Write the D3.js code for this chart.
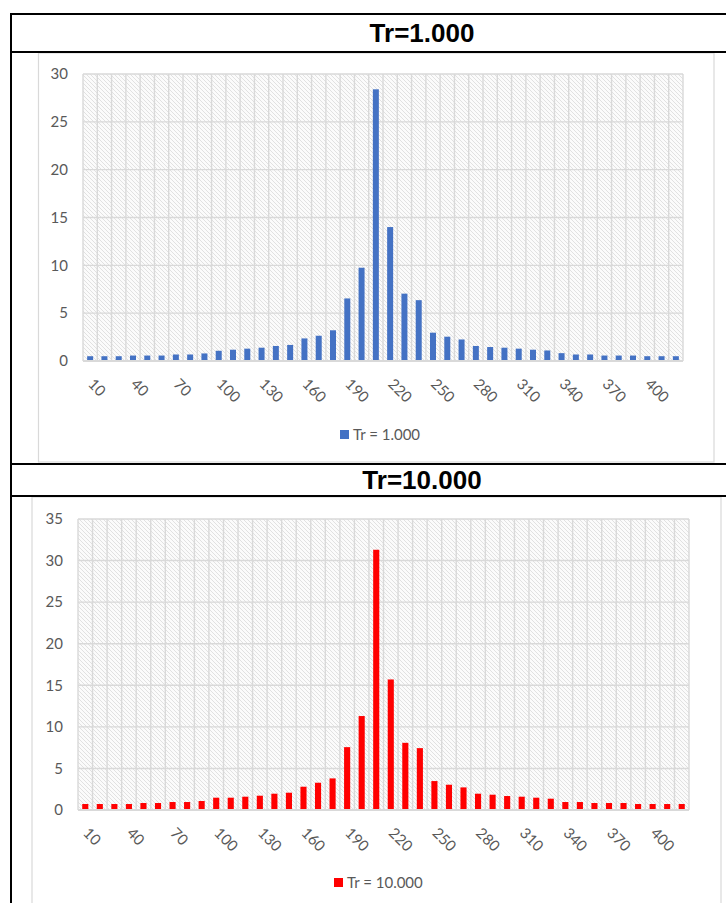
<!DOCTYPE html>
<html><head><meta charset="utf-8">
<script src="https://cdn.jsdelivr.net/npm/d3@7/dist/d3.min.js"></script>
<style>
body{margin:0;background:#fff;}
svg{display:block;}
</style>
</head><body>
<svg id="chart" width="726" height="903"></svg>
<script>
// ---------- data ----------
const categories = [10,20,30,40,50,60,70,80,90,100,110,120,130,140,150,160,170,180,190,200,
  210,220,230,240,250,260,270,280,290,300,310,320,330,340,350,360,370,380,390,400,410,420];
const tickLabels = [10,40,70,100,130,160,190,220,250,280,310,340,370,400];
const valuesTr1 = [0.5,0.5,0.5,0.57,0.57,0.57,0.68,0.68,0.79,1.07,1.18,1.29,1.39,1.57,1.68,2.36,2.64,3.21,6.54,9.75,
  28.4,14.0,7.04,6.36,2.96,2.54,2.25,1.57,1.46,1.39,1.29,1.18,1.1,0.82,0.68,0.68,0.57,0.57,0.57,0.5,0.5,0.5];
const valuesTr10 = [0.72,0.72,0.72,0.72,0.84,0.84,0.96,0.96,1.08,1.48,1.48,1.6,1.72,1.96,2.08,2.8,3.28,3.8,7.56,11.3,
  31.3,15.7,8.08,7.44,3.48,3.04,2.72,1.96,1.84,1.68,1.6,1.48,1.36,0.96,0.96,0.84,0.84,0.84,0.72,0.72,0.72,0.72];
const yTicksTr1 = [0,5,10,15,20,25,30];
const yTicksTr10 = [0,5,10,15,20,25,30,35];
const titles = ["Tr=1.000","Tr=10.000"];
const seriesNames = ["Tr = 1.000","Tr = 10.000"];

// ---------- drawing ----------
const FONT = "Lato, 'Open Sans', sans-serif";
const svg = d3.select("#chart");
const defs = svg.append("defs");
const pat = defs.append("pattern").attr("id","hatch").attr("patternUnits","userSpaceOnUse")
  .attr("width",4).attr("height",4);
pat.append("rect").attr("width",4).attr("height",4).attr("fill","#fbfbfb");
pat.append("path").attr("d","M-1,-1L5,5M-1,3L1,5M3,-1L5,1").attr("stroke","#dddddd").attr("stroke-width",0.85);

const panels = [
  {values: valuesTr1, yTicks: yTicksTr1, color:"#4472C4", title:titles[0], name:seriesNames[0],
   box:{x:38.5,y:53,w:675.5,h:409}, plot:{l:83,r:683,t:74,b:361}, titleY:33, legend:{x:340,y:430}},
  {values: valuesTr10, yTicks: yTicksTr10, color:"#FF0000", title:titles[1], name:seriesNames[1],
   box:{x:32,y:497,w:689,h:420}, plot:{l:78,r:689,t:519,b:810}, titleY:480, legend:{x:334,y:878}}
];

panels.forEach(p => {
  const g = svg.append("g");
  g.append("rect").attr("x",p.box.x).attr("y",p.box.y).attr("width",p.box.w).attr("height",p.box.h)
    .attr("fill","#fff").attr("stroke","#d9d9d9").attr("stroke-width",1.2);

  const x = d3.scaleBand().domain(categories).range([p.plot.l,p.plot.r]).paddingInner(0.58).paddingOuter(0.29);
  const yMax = p.yTicks[p.yTicks.length-1];
  const y = d3.scaleLinear().domain([0,yMax]).range([p.plot.b,p.plot.t]);

  g.append("rect").attr("x",p.plot.l).attr("y",p.plot.t).attr("width",p.plot.r-p.plot.l)
    .attr("height",p.plot.b-p.plot.t).attr("fill","url(#hatch)");

  // horizontal gridlines
  g.selectAll(".hg").data(p.yTicks).join("line")
    .attr("x1",p.plot.l).attr("x2",p.plot.r).attr("y1",d=>y(d)).attr("y2",d=>y(d))
    .attr("stroke","#d9d9d9").attr("stroke-width",1.4);
  // vertical gridlines at category boundaries
  const bounds = categories.map(c => x(c) - x.step()*x.paddingOuter()).concat([p.plot.r]);
  g.selectAll(".vg").data(bounds).join("line")
    .attr("x1",d=>d).attr("x2",d=>d).attr("y1",p.plot.t).attr("y2",p.plot.b)
    .attr("stroke","#d9d9d9").attr("stroke-width",1.4);

  // bars
  g.selectAll(".bar").data(p.values).join("rect")
    .attr("x",(d,i)=>x(categories[i])).attr("width",x.bandwidth())
    .attr("y",d=>y(d)).attr("height",d=>y(0)-y(d)).attr("fill",p.color);

  // baseline
  g.append("line").attr("x1",p.plot.l).attr("x2",p.plot.r).attr("y1",y(0)).attr("y2",y(0))
    .attr("stroke","#d9d9d9").attr("stroke-width",1.8);

  // y axis
  const ya = g.append("g").attr("transform",`translate(${p.plot.l},0)`)
    .call(d3.axisLeft(y).tickValues(p.yTicks).tickSize(0).tickPadding(15));
  ya.select(".domain").remove();
  ya.selectAll("text").attr("font-family",FONT).attr("font-size",15).attr("fill","#595959");

  // x axis
  const xa = g.append("g").attr("transform",`translate(0,${y(0)})`)
    .call(d3.axisBottom(x).tickValues(tickLabels).tickSize(0).tickPadding(0));
  xa.select(".domain").remove();
  xa.selectAll("text")
    .attr("font-family",FONT).attr("font-size",15).attr("fill","#595959")
    .attr("text-anchor","start").attr("dy",null).attr("y",null)
    .attr("transform",`translate(${x.bandwidth()/2-6},24) rotate(45)`);

  // legend
  g.append("rect").attr("x",p.legend.x).attr("y",p.legend.y).attr("width",9).attr("height",9).attr("fill",p.color);
  g.append("text").attr("x",p.legend.x+13).attr("y",p.legend.y+9.5).text(p.name)
    .attr("font-family",FONT).attr("font-size",15).attr("fill","#595959");

  // title
  svg.append("text").attr("x",422).attr("y",p.titleY).attr("dy","0.35em").attr("text-anchor","middle")
    .attr("font-family","'Liberation Sans', Arial, sans-serif").attr("font-weight","bold")
    .attr("font-size",26).attr("fill","#000").text(p.title);
});

// table lines
const lineY = [14,52,464,496];
svg.selectAll(".tl").data(lineY).join("line")
  .attr("x1",10).attr("x2",726).attr("y1",d=>d).attr("y2",d=>d)
  .attr("stroke","#000").attr("stroke-width",2);
svg.append("line").attr("x1",11).attr("x2",11).attr("y1",13).attr("y2",903)
  .attr("stroke","#000").attr("stroke-width",2);
</script>
</body></html>
